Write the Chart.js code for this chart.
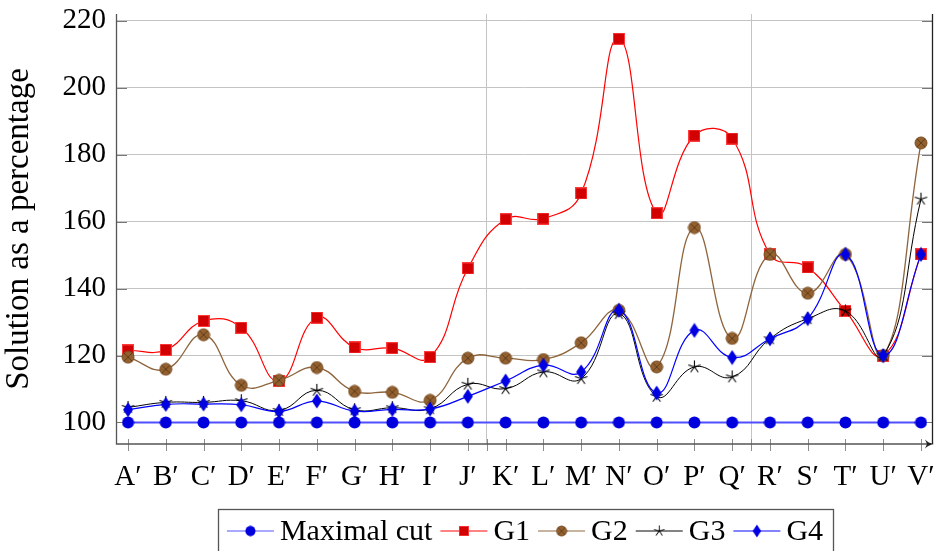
<!DOCTYPE html>
<html>
<head>
<meta charset="utf-8">
<script src="https://cdn.jsdelivr.net/npm/chart.js@4.4.1/dist/chart.umd.min.js"></script>
<style>
  html, body { margin: 0; padding: 0; background: #fff; }
</style>
</head>
<body>
<canvas id="myChart" width="936" height="551"></canvas>
<script>
// categories and values
var categories = ["A′","B′","C′","D′","E′","F′","G′","H′","I′","J′","K′","L′","M′","N′","O′","P′","Q′","R′","S′","T′","U′","V′"];
var maximalCut = [100,100,100,100,100,100,100,100,100,100,100,100,100,100,100,100,100,100,100,100,100,100];
var g1 = [121.5,121.7,130.3,128.3,112.4,131.3,122.4,122.2,119.5,146.0,160.7,160.9,168.4,214.6,162.5,185.7,184.8,150.2,146.3,133.3,120.0,150.2];
var g2 = [119.5,115.9,126.2,111.1,112.6,116.4,109.3,109.0,106.6,119.2,119.2,118.8,123.8,133.5,116.6,158.2,125.1,150.2,138.6,150.2,120.0,183.5];
var g3 = [104.5,106.0,106.0,106.5,103.6,109.6,103.8,104.4,104.1,111.4,110.1,115.1,113.1,132.5,107.8,116.6,113.6,125.0,131.0,133.3,120.0,166.7];
var g4 = [103.8,105.4,105.5,105.3,103.3,106.4,103.4,103.9,104.0,107.8,112.4,117.1,115.1,133.5,108.8,127.5,119.4,125.0,131.0,150.2,120.0,150.2];
var yTicks = [100,120,140,160,180,200,220];
var xGridAt = [9.5, 16.5];

var FONT = '"Liberation Serif", "Times New Roman", serif';

// small canvases used as point markers
function markerSquare() {
  var c = document.createElement('canvas'); c.width = 12; c.height = 12;
  var x = c.getContext('2d');
  x.fillStyle = '#d20000'; x.fillRect(0, 0, 12, 12);
  x.strokeStyle = '#ff3b3b'; x.lineWidth = 1; x.strokeRect(0.5, 0.5, 11, 11);
  return c;
}
function markerOplus() {
  var c = document.createElement('canvas'); c.width = 14; c.height = 14;
  var x = c.getContext('2d');
  x.beginPath(); x.arc(7, 7, 6, 0, Math.PI * 2);
  x.fillStyle = '#93602f'; x.fill();
  x.strokeStyle = '#7a4e24'; x.lineWidth = 1; x.stroke();
  var d = 4.2;
  x.beginPath();
  x.moveTo(7 - d, 7 - d); x.lineTo(7 + d, 7 + d);
  x.moveTo(7 + d, 7 - d); x.lineTo(7 - d, 7 + d);
  x.strokeStyle = '#5a3816'; x.lineWidth = 0.9; x.stroke();
  return c;
}
function markerStar() {
  var c = document.createElement('canvas'); c.width = 15; c.height = 15;
  var x = c.getContext('2d');
  x.beginPath();
  for (var k = 0; k < 5; k++) {
    var a = -Math.PI / 2 + k * 2 * Math.PI / 5;
    x.moveTo(7.5, 7.5); x.lineTo(7.5 + 6.5 * Math.cos(a), 7.5 + 6.5 * Math.sin(a));
  }
  x.strokeStyle = '#000'; x.lineWidth = 1.1; x.stroke();
  return c;
}
function markerDiamond() {
  var c = document.createElement('canvas'); c.width = 12; c.height = 16;
  var x = c.getContext('2d');
  x.beginPath(); x.moveTo(6, 0.5); x.lineTo(11, 8); x.lineTo(6, 15.5); x.lineTo(1, 8); x.closePath();
  x.fillStyle = '#0000e0'; x.fill();
  return c;
}
function markerCircle() {
  var c = document.createElement('canvas'); c.width = 13; c.height = 13;
  var x = c.getContext('2d');
  x.beginPath(); x.arc(6.5, 6.5, 6, 0, Math.PI * 2);
  x.fillStyle = '#0000dd'; x.fill();
  return c;
}

var mkCircle = markerCircle(), mkSquare = markerSquare(), mkOplus = markerOplus(), mkStar = markerStar(), mkDiamond = markerDiamond();

// axis lines, inner tick marks and the arrow
var framePlugin = {
  id: 'frame',
  beforeDatasetsDraw: function(chart) {
    var ctx = chart.ctx, a = chart.chartArea, xs = chart.scales.x, ys = chart.scales.y;
    ctx.save();
    ctx.lineWidth = 1;
    ctx.strokeStyle = '#8c8c8c';
    ctx.beginPath();
    xs.ticks.forEach(function(t) {
      var px = Math.round(xs.getPixelForValue(t.value)) + 0.5;
      ctx.moveTo(px, a.bottom - 5); ctx.lineTo(px, a.bottom + 7);
    });
    ctx.stroke();
    ctx.strokeStyle = '#777';
    ctx.beginPath();
    ys.ticks.forEach(function(t) {
      var py = Math.round(ys.getPixelForValue(t.value)) + 0.5;
      ctx.moveTo(a.left, py); ctx.lineTo(a.left + 11, py);
      ctx.moveTo(a.right - 11, py); ctx.lineTo(a.right, py);
    });
    ctx.stroke();
    // left and bottom axis
    ctx.strokeStyle = '#555';
    ctx.lineWidth = 1.3;
    ctx.beginPath();
    ctx.moveTo(a.left + 0.5, a.top); ctx.lineTo(a.left + 0.5, a.bottom);
    ctx.lineTo(a.right - 2, a.bottom);
    ctx.stroke();
    // right side
    ctx.strokeStyle = '#222';
    ctx.lineWidth = 1.3;
    ctx.beginPath();
    ctx.moveTo(a.right - 0.5, a.top); ctx.lineTo(a.right - 0.5, a.bottom);
    ctx.stroke();
    // arrow head
    ctx.fillStyle = '#222';
    ctx.beginPath();
    ctx.moveTo(a.right + 1, a.bottom);
    ctx.quadraticCurveTo(a.right - 5, a.bottom - 1, a.right - 8, a.bottom - 4.5);
    ctx.lineTo(a.right - 6, a.bottom);
    ctx.lineTo(a.right - 8, a.bottom + 4.5);
    ctx.quadraticCurveTo(a.right - 5, a.bottom + 1, a.right + 1, a.bottom);
    ctx.fill();
    ctx.restore();
  }
};

// boxed legend under the plot: line - marker - line, then label
var legendPlugin = {
  id: 'boxLegend',
  afterDraw: function(chart) {
    var ctx = chart.ctx;
    var sets = chart.data.datasets;
    ctx.save();
    ctx.font = '30px ' + FONT;
    var lineW = 47, gapT = 6, gapI = 8;
    var total = 0;
    sets.forEach(function(ds, i) {
      total += lineW + gapT + ctx.measureText(ds.label).width;
      if (i > 0) total += gapI;
    });
    var x = 525 - total / 2;
    var cy = 531;
    ctx.strokeStyle = '#555';
    ctx.lineWidth = 1.3;
    ctx.strokeRect(Math.round(x - 9) + 0.5, 509.5, Math.round(total + 19), 60);
    sets.forEach(function(ds) {
      ctx.globalAlpha = 0.65;
      ctx.strokeStyle = ds.borderColor;
      ctx.lineWidth = 1.6;
      ctx.beginPath(); ctx.moveTo(x, cy); ctx.lineTo(x + lineW, cy); ctx.stroke();
      ctx.globalAlpha = 1;
      var m = ds.pointStyle;
      var s = 0.85;
      ctx.drawImage(m, x + lineW / 2 - m.width * s / 2, cy - m.height * s / 2, m.width * s, m.height * s);
      ctx.fillStyle = '#000';
      ctx.textBaseline = 'alphabetic';
      ctx.fillText(ds.label, x + lineW + gapT, 540);
      x += lineW + gapT + ctx.measureText(ds.label).width + gapI;
    });
    ctx.restore();
  }
};

var ctx = document.getElementById('myChart').getContext('2d');
var chart = new Chart(ctx, {
  type: 'line',
  data: {
    labels: categories.map(function(c, i) { return i; }),
    datasets: [
      { label: 'Maximal cut', data: maximalCut, borderColor: '#4f4fff', borderWidth: 2, pointStyle: mkCircle, pointRadius: 6, tension: 0, order: 0 },
      { label: 'G1', data: g1, borderColor: '#ff0000', borderWidth: 1.2, pointStyle: mkSquare, pointRadius: 6, tension: 0.45, order: 4 },
      { label: 'G2', data: g2, borderColor: '#8e643c', borderWidth: 1.3, pointStyle: mkOplus, pointRadius: 6, tension: 0.45, order: 3 },
      { label: 'G3', data: g3, borderColor: '#000000', borderWidth: 1, pointStyle: mkStar, pointRadius: 6, tension: 0.45, order: 2 },
      { label: 'G4', data: g4, borderColor: '#0000ff', borderWidth: 1.2, pointStyle: mkDiamond, pointRadius: 6, tension: 0.45, order: 1 }
    ]
  },
  options: {
    responsive: false,
    animation: false,
    layout: { autoPadding: false, padding: { top: 14, right: 3, left: 0, bottom: 0 } },
    plugins: { legend: { display: false }, tooltip: { enabled: false } },
    elements: { line: { fill: false } },
    scales: {
      x: {
        type: 'linear',
        min: -0.318,
        max: 21.318,
        afterBuildTicks: function(scale) {
          var t = categories.map(function(c, i) { return { value: i }; });
          xGridAt.forEach(function(v) { t.push({ value: v }); });
          scale.ticks = t;
        },
        afterFit: function(scale) {
          scale.height = 107;
          scale.paddingLeft = 0; scale.paddingRight = 0;
        },
        border: { display: false },
        grid: {
          drawTicks: false,
          lineWidth: 1,
          color: function(c) { return c.tick && c.tick.value % 1 !== 0 ? '#c4c4c4' : 'rgba(0,0,0,0)'; }
        },
        ticks: {
          autoSkip: false,
          maxRotation: 0,
          padding: 16,
          color: '#000',
          font: { family: FONT, size: 29 },
          callback: function(v) { return v % 1 === 0 ? categories[v] : ''; }
        }
      },
      y: {
        min: 93.57,
        max: 222.0,
        afterBuildTicks: function(scale) {
          scale.ticks = yTicks.map(function(v) { return { value: v }; });
        },
        afterFit: function(scale) {
          scale.width = 116;
          scale.paddingTop = 0; scale.paddingBottom = 0;
        },
        border: { display: false },
        grid: { drawTicks: false, color: '#c4c4c4', lineWidth: 1 },
        ticks: { padding: 10, color: '#000', font: { family: FONT, size: 29 } },
        title: {
          display: true,
          text: 'Solution as a percentage',
          color: '#000',
          font: { family: FONT, size: 33 },
          padding: { top: 0, bottom: 0 }
        }
      }
    }
  },
  plugins: [framePlugin, legendPlugin]
});
</script>
</body>
</html>
